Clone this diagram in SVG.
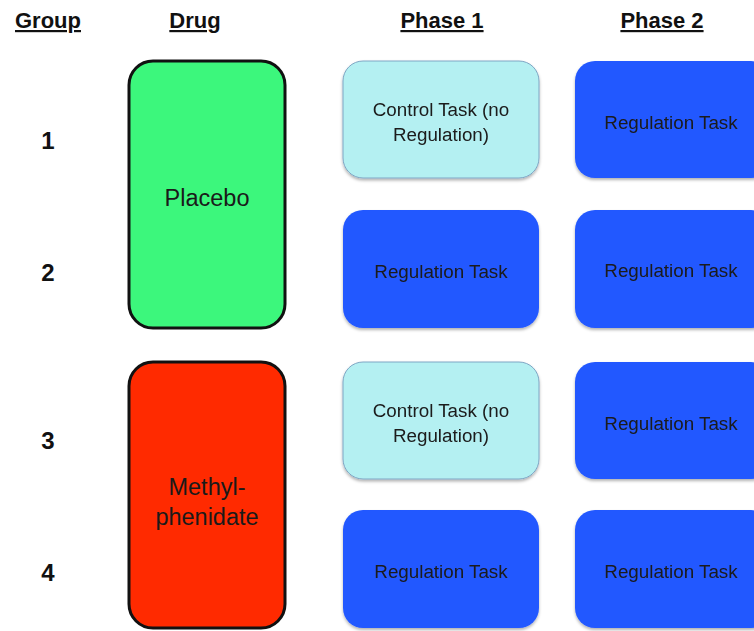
<svg xmlns="http://www.w3.org/2000/svg" width="754" height="631" viewBox="0 0 754 631">
<defs>
<filter id="sh" x="-10%" y="-10%" width="120%" height="125%">
<feDropShadow dx="0" dy="2" stdDeviation="1.5" flood-color="#000" flood-opacity="0.3"/>
</filter>
</defs>
<style>
.hdr{font-family:"Liberation Sans",Arial,sans-serif;font-weight:bold;font-size:22px;fill:#111;text-anchor:middle;text-decoration:underline}
.num{font-family:"Liberation Sans",Arial,sans-serif;font-weight:bold;font-size:24px;fill:#111;text-anchor:middle}
.drug{stroke:#111;stroke-width:3}
.dt{font-family:"Liberation Sans",Arial,sans-serif;font-size:23.5px;fill:#1a1a1a;text-anchor:middle}
.ctrl{fill:#b4f0f2;stroke:#7fa6c4;stroke-width:1}
.reg{fill:#2358ff}
.bt{font-family:"Liberation Sans",Arial,sans-serif;font-size:18.8px;fill:#1a1a1a;text-anchor:middle}
</style>
<rect width="754" height="631" fill="#fff"/>
<g id="headers">
<text class="hdr" x="48" y="28">Group</text>
<text class="hdr" x="195" y="28">Drug</text>
<text class="hdr" x="442" y="28">Phase 1</text>
<text class="hdr" x="662" y="28">Phase 2</text>
</g>
<g id="groups">
<text class="num" x="48" y="149">1</text>
<text class="num" x="48" y="281">2</text>
<text class="num" x="48" y="449">3</text>
<text class="num" x="48" y="581">4</text>
</g>
<g id="placebo">
<rect class="drug" x="129" y="61" width="156" height="267" rx="24" fill="#3cf77c"/>
<text class="dt" x="207" y="206">Placebo</text>
</g>
<g id="methylphenidate">
<rect class="drug" x="129" y="362" width="156" height="266" rx="24" fill="#ff2a00"/>
<text class="dt" x="207" y="495">Methyl-</text>
<text class="dt" x="207" y="525">phenidate</text>
</g>
<g id="p1g1" filter="url(#sh)">
<rect class="ctrl" x="343" y="61" width="196" height="117" rx="20"/>
<text class="bt" x="441" y="116">Control Task (no</text>
<text class="bt" x="441" y="141">Regulation)</text>
</g>
<g id="p1g2" filter="url(#sh)">
<rect class="reg" x="343" y="210" width="196" height="118" rx="20"/>
<text class="bt" x="441" y="278">Regulation Task</text>
</g>
<g id="p1g3" filter="url(#sh)">
<rect class="ctrl" x="343" y="362" width="196" height="117" rx="20"/>
<text class="bt" x="441" y="417">Control Task (no</text>
<text class="bt" x="441" y="442">Regulation)</text>
</g>
<g id="p1g4" filter="url(#sh)">
<rect class="reg" x="343" y="510" width="196" height="118" rx="20"/>
<text class="bt" x="441" y="578">Regulation Task</text>
</g>
<g id="p2g1" filter="url(#sh)">
<rect class="reg" x="575" y="61" width="196" height="117" rx="20"/>
<text class="bt" x="671" y="129">Regulation Task</text>
</g>
<g id="p2g2" filter="url(#sh)">
<rect class="reg" x="575" y="210" width="196" height="118" rx="20"/>
<text class="bt" x="671" y="277">Regulation Task</text>
</g>
<g id="p2g3" filter="url(#sh)">
<rect class="reg" x="575" y="362" width="196" height="117" rx="20"/>
<text class="bt" x="671" y="430">Regulation Task</text>
</g>
<g id="p2g4" filter="url(#sh)">
<rect class="reg" x="575" y="510" width="196" height="118" rx="20"/>
<text class="bt" x="671" y="578">Regulation Task</text>
</g>
<g id="connectors"/>
</svg>
